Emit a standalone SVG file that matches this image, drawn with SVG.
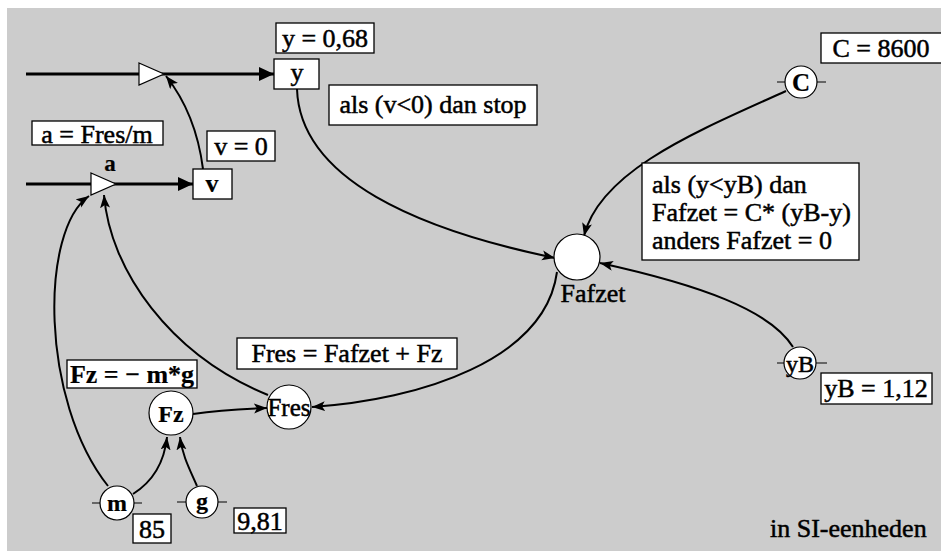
<svg xmlns="http://www.w3.org/2000/svg" width="941" height="551" viewBox="0 0 941 551" font-family="'Liberation Serif', 'Times New Roman', 'DejaVu Serif', serif">
<defs>
<style>
text{font-family:'Liberation Serif','Times New Roman','DejaVu Serif',serif;font-size:26px;fill:#000;stroke:#000;stroke-width:0.5}
.c{text-anchor:middle}
.b{font-weight:bold;stroke-width:0.2}
.box{fill:#fff;stroke:#000;stroke-width:1.3}
.node{fill:#fff;stroke:#000;stroke-width:1.2}
.flow{fill:none;stroke:#000;stroke-width:3}
.link{fill:none;stroke:#000;stroke-width:2}
.tick{stroke:#000;stroke-width:1.2}
</style>
<marker id="big" markerUnits="userSpaceOnUse" markerWidth="16" markerHeight="14" refX="15" refY="7" orient="auto">
<path d="M0,0 L15,7 L0,14 z" fill="#000"/>
</marker>
<marker id="sm" markerUnits="userSpaceOnUse" markerWidth="14" markerHeight="12" refX="13" refY="5" orient="auto">
<path d="M0,0 L13,5 L0,10 L3,5 z" fill="#000"/>
</marker>
</defs>
<rect x="7" y="8" width="934" height="543" fill="#cccccc"/>

<g id="connectors">
<line class="flow" x1="26" y1="74" x2="274" y2="74" marker-end="url(#big)"/>
<line class="flow" x1="26" y1="184" x2="193" y2="184" marker-end="url(#big)"/>
<path class="link" d="M203,169 C198,130 185,100 166,76" marker-end="url(#sm)"/>
<path class="link" d="M108,486 C40,400 40,230 89,196" marker-end="url(#sm)"/>
<path class="link" d="M268,395 C170,355 110,270 104,195" marker-end="url(#sm)"/>
<path class="link" d="M133,494 C152,482 164,465 167,437" marker-end="url(#sm)"/>
<path class="link" d="M197,486 C190,470 182,455 180,437" marker-end="url(#sm)"/>
<path class="link" d="M193,414 C220,410 240,409 267,408" marker-end="url(#sm)"/>
<path class="link" d="M297,89 C300,180 420,230 555,258" marker-end="url(#sm)"/>
<path class="link" d="M786,91 C700,130 600,170 584,236" marker-end="url(#sm)"/>
<path class="link" d="M793,347 C770,310 700,285 600,263" marker-end="url(#sm)"/>
<path class="link" d="M557,272 C545,360 420,400 312,407" marker-end="url(#sm)"/>
</g>

<g id="int-y">
<polygon class="node" points="139,63 164,74 139,85"/>
</g>
<g id="int-v">
<polygon class="node" points="91,173 116,184 91,195"/>
<text class="c b" x="110" y="171" style="font-size:23px">a</text>
</g>
<g id="y-label">
<rect class="box" x="276" y="23" width="98" height="30"/>
<text class="c" x="325" y="47">y = 0,68</text>
</g>
<g id="y">
<rect class="box" x="274" y="59" width="45" height="30"/>
<text class="c" x="297" y="81">y</text>
</g>
<g id="stop">
<rect class="box" x="329" y="85" width="208" height="40"/>
<text class="c" x="433" y="113">als (v&lt;0) dan stop</text>
</g>
<g id="a-label">
<rect class="box" x="32" y="121" width="131" height="24"/>
<text class="c" x="97" y="143">a = Fres/m</text>
</g>
<g id="v-label">
<rect class="box" x="207" y="131" width="68" height="30"/>
<text class="c" x="241" y="155">v = 0</text>
</g>
<g id="v">
<rect class="box" x="193" y="169" width="39" height="30"/>
<text class="c b" x="212" y="192">v</text>
</g>
<g id="C">
<line class="tick" x1="777" y1="82" x2="826" y2="82"/>
<circle class="node" cx="801" cy="82" r="16"/>
<text class="c b" x="801" y="91" style="font-size:25px">C</text>
<rect class="box" x="821" y="33" width="130" height="30"/>
<text class="c" x="881" y="57">C = 8600</text>
</g>
<g id="Fafzet-rule">
<rect class="box" x="642" y="163" width="217" height="97"/>
<text x="652" y="193">als (y&lt;yB) dan</text>
<text x="652" y="221">Fafzet = C* (yB-y)</text>
<text x="652" y="249">anders Fafzet = 0</text>
</g>
<g id="Fafzet">
<circle class="node" cx="577" cy="257" r="23"/>
<text class="c" x="593" y="302">Fafzet</text>
</g>
<g id="yB">
<line class="tick" x1="777" y1="363" x2="827" y2="363"/>
<circle class="node" cx="800" cy="363" r="16"/>
<text class="c" x="800" y="372" style="font-size:24px">yB</text>
<rect class="box" x="821" y="373" width="111" height="31"/>
<text class="c" x="876" y="397">yB = 1,12</text>
</g>
<g id="Fres-rule">
<rect class="box" x="237" y="338" width="220" height="31"/>
<text class="c" x="347" y="362">Fres = Fafzet + Fz</text>
</g>
<g id="Fres">
<circle class="node" cx="289" cy="407" r="22"/>
<text class="c" x="289" y="416" style="font-size:25px">Fres</text>
</g>
<g id="Fz-rule">
<rect class="box" x="67" y="360" width="130" height="28"/>
<text class="c b" x="132" y="383">Fz = − m*g</text>
</g>
<g id="Fz">
<circle class="node" cx="171" cy="413" r="22"/>
<text class="c b" x="171" y="422" style="font-size:24px">Fz</text>
</g>
<g id="m">
<line class="tick" x1="92" y1="503" x2="142" y2="503"/>
<circle class="node" cx="117" cy="503" r="17"/>
<text class="c b" x="117" y="511" style="font-size:24px">m</text>
<rect class="box" x="133" y="514" width="38" height="29"/>
<text class="c" x="152" y="538">85</text>
</g>
<g id="g">
<line class="tick" x1="177" y1="502" x2="227" y2="502"/>
<circle class="node" cx="202" cy="502" r="16"/>
<text class="c b" x="202" y="509" style="font-size:24px">g</text>
<rect class="box" x="234" y="508" width="52" height="25"/>
<text class="c" x="260" y="530">9,81</text>
</g>
<text x="770" y="537">in SI-eenheden</text>
</svg>
